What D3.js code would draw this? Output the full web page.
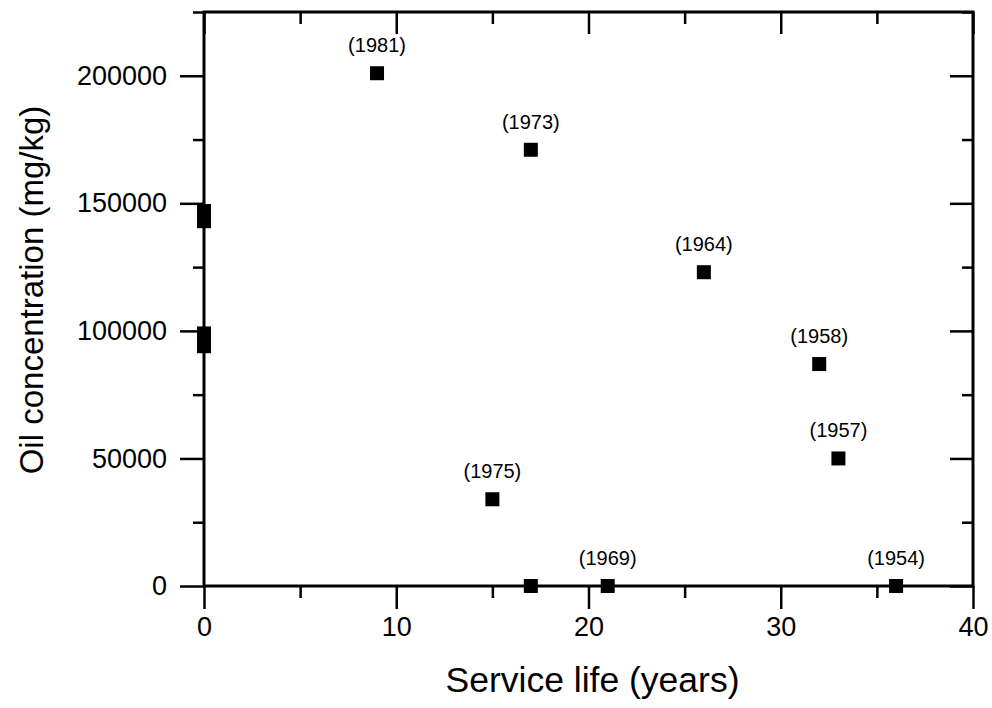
<!DOCTYPE html>
<html>
<head>
<meta charset="utf-8">
<script src="https://cdn.jsdelivr.net/npm/d3@7"></script>
<style>
  body { margin: 0; background: white; }
  text { font-family: "Liberation Sans", Arial, sans-serif; fill: black; }
</style>
</head>
<body>
<script>
// values
var serviceLife = [0, 0, 0, 0, 9, 15, 17, 17, 21, 26, 32, 33, 36];
var oilConc = [147000, 143000, 99000, 94000, 201000, 34000, 171000, 0, 0, 123000, 87000, 50000, 0];
var yearLabels = ["", "", "", "", "(1981)", "(1975)", "(1973)", "", "(1969)", "(1964)", "(1958)", "(1957)", "(1954)"];

var xMajor = [0, 10, 20, 30, 40];
var xMinor = [5, 15, 25, 35];
var yMajor = [0, 50000, 100000, 150000, 200000];
var yMinor = [25000, 75000, 125000, 175000, 225000];

const xLabel = 'Service life (years)';
const yLabel = 'Oil concentration (mg/kg)';

const width = 992, height = 708;
const margin = {top: 12, right: 19, bottom: 122, left: 204};

var svg = d3.select("body").append("svg")
    .attr("width", width)
    .attr("height", height);

const xScale = d3.scaleLinear()
    .domain([0, 40])
    .range([margin.left, width - margin.right]);

const yScale = d3.scaleLinear()
    .domain([0, 225000])
    .range([height - margin.bottom, margin.top]);

const x0 = xScale(0), x1 = xScale(40);
const y0 = yScale(0), y1 = yScale(225000);

function styleAxis(g) {
  g.select(".domain").remove();
  g.selectAll(".tick line").attr("stroke", "black").attr("stroke-width", 2.5);
  g.selectAll("text").attr("font-size", 27).attr("fill", "black")
    .attr("font-family", '"Liberation Sans", Arial, sans-serif');
}

// bottom (outward ticks, labelled)
svg.append("g").attr("transform", `translate(0,${y0})`)
  .call(d3.axisBottom(xScale).tickValues(xMajor).tickSize(23).tickPadding(8).tickFormat(d3.format("d")))
  .call(styleAxis);
svg.append("g").attr("transform", `translate(0,${y0})`)
  .call(d3.axisBottom(xScale).tickValues(xMinor).tickSize(12).tickFormat(""))
  .call(styleAxis);

// top (inward ticks)
svg.append("g").attr("transform", `translate(0,${y1})`)
  .call(d3.axisBottom(xScale).tickValues(xMajor).tickSize(22).tickFormat(""))
  .call(styleAxis);
svg.append("g").attr("transform", `translate(0,${y1})`)
  .call(d3.axisBottom(xScale).tickValues(xMinor).tickSize(12).tickFormat(""))
  .call(styleAxis);

// left (outward ticks, labelled)
svg.append("g").attr("transform", `translate(${x0},0)`)
  .call(d3.axisLeft(yScale).tickValues(yMajor).tickSize(24).tickPadding(13).tickFormat(d3.format("d")))
  .call(styleAxis);
svg.append("g").attr("transform", `translate(${x0},0)`)
  .call(d3.axisLeft(yScale).tickValues(yMinor).tickSize(11).tickFormat(""))
  .call(styleAxis);

// right (inward ticks)
svg.append("g").attr("transform", `translate(${x1},0)`)
  .call(d3.axisLeft(yScale).tickValues(yMajor).tickSize(23).tickFormat(""))
  .call(styleAxis);
svg.append("g").attr("transform", `translate(${x1},0)`)
  .call(d3.axisLeft(yScale).tickValues(yMinor).tickSize(11).tickFormat(""))
  .call(styleAxis);

// frame
svg.append("rect")
  .attr("x", x0).attr("y", y1)
  .attr("width", x1 - x0).attr("height", y0 - y1)
  .attr("fill", "none")
  .attr("stroke", "black")
  .attr("stroke-width", 3);

var data = serviceLife.map((d, i) => ({x: d, y: oilConc[i], label: yearLabels[i]}));

const size = 14;
svg.selectAll("rect.pt").data(data)
  .enter().append("rect")
    .attr("class", "pt")
    .attr("x", d => xScale(d.x) - size / 2)
    .attr("y", d => yScale(d.y) - size / 2)
    .attr("width", size)
    .attr("height", size)
    .attr("fill", "black");

svg.selectAll("text.yr").data(data.filter(d => d.label))
  .enter().append("text")
    .attr("class", "yr")
    .attr("x", d => xScale(d.x))
    .attr("y", d => yScale(d.y) - 21)
    .attr("text-anchor", "middle")
    .attr("font-size", 20)
    .text(d => d.label);

svg.append("text")
  .attr("x", (x0 + x1) / 2 + 4)
  .attr("y", 692)
  .attr("text-anchor", "middle")
  .attr("font-size", 35.5)
  .text(xLabel);

svg.append("text")
  .attr("transform", "translate(43,290) rotate(-90)")
  .attr("text-anchor", "middle")
  .attr("font-size", 33)
  .text(yLabel);
</script>
</body>
</html>
